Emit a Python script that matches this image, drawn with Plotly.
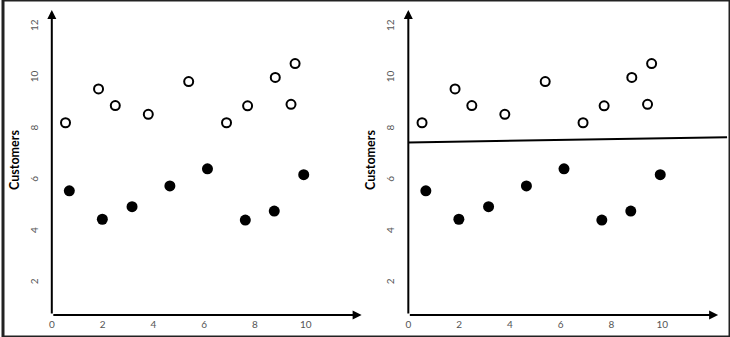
import plotly.graph_objects as go

# Survey data: two customer groups
open_x = [0.54, 1.84, 2.50, 3.80, 5.39, 6.88, 7.71, 8.80, 9.42, 9.58]
open_y = [8.25, 9.57, 8.92, 8.58, 9.86, 8.25, 8.91, 10.02, 8.97, 10.56]
filled_x = [0.69, 1.99, 3.16, 4.65, 6.13, 7.62, 8.76, 9.92]
filled_y = [5.59, 4.48, 4.97, 5.78, 6.45, 4.45, 4.80, 6.22]

# Separating line shown on the right-hand panel
line_x = [0.0, 12.55]
line_y = [7.48, 7.68]

x_ticks = [0, 2, 4, 6, 8, 10]
y_ticks = [2, 4, 6, 8, 10, 12]

W, H = 730, 337
Y_MIN, Y_MAX = 0.74, 12.85
ARROW_X, ARROW_Y = 12.2, 12.65

fig = go.Figure()

panels = [("x", "y"), ("x2", "y2")]
for i, (xa, ya) in enumerate(panels):
    fig.add_trace(go.Scatter(
        x=open_x, y=open_y, mode="markers", xaxis=xa, yaxis=ya,
        marker=dict(size=9, color="white", line=dict(color="black", width=2)),
        showlegend=False, cliponaxis=False))
    fig.add_trace(go.Scatter(
        x=filled_x, y=filled_y, mode="markers", xaxis=xa, yaxis=ya,
        marker=dict(size=11, color="black"),
        showlegend=False, cliponaxis=False))

fig.add_trace(go.Scatter(
    x=line_x, y=line_y, mode="lines", xaxis="x2", yaxis="y2",
    line=dict(color="black", width=2), showlegend=False))

tick_font = dict(family="Lato, Liberation Sans, sans-serif", size=10, color="#555555")
title_font = dict(family="Lato, Liberation Sans, sans-serif", size=12.5, color="#000000")

def xaxis_cfg(dom, rng):
    return dict(domain=dom, range=rng, tickvals=x_ticks, showgrid=False,
                zeroline=False, showline=False, ticks="", tickfont=tick_font,
                ticklabelstandoff=2, fixedrange=True)

def yaxis_cfg(anchor):
    return dict(domain=[(H - 315) / H, (H - 5) / H], range=[Y_MIN, Y_MAX],
                tickvals=y_ticks, tickangle=-90, showgrid=False, zeroline=False,
                showline=False, ticks="", tickfont=tick_font, anchor=anchor,
                ticklabelstandoff=11,
                title=dict(text="<b>Customers</b>", font=title_font, standoff=5),
                fixedrange=True)

fig.update_layout(
    width=W, height=H,
    margin=dict(l=0, r=0, t=0, b=0),
    paper_bgcolor="white", plot_bgcolor="white",
    xaxis=xaxis_cfg([49 / W, 365 / W], [0, (365 - 49) / 25.5]),
    yaxis=yaxis_cfg("x"),
    xaxis2=xaxis_cfg([407 / W, 1.0], [0, (730 - 407) / 25.5]),
    yaxis2=yaxis_cfg("x2"),
)
fig.layout.xaxis.anchor = "y"
fig.layout.xaxis2.anchor = "y2"

# Arrow-tipped axes
annotations = []
for xa, ya in panels:
    annotations.append(dict(x=ARROW_X, y=Y_MIN, ax=0, ay=Y_MIN, xref=xa, yref=ya,
                            axref=xa, ayref=ya, text="", showarrow=True,
                            arrowhead=2, arrowsize=0.9, arrowwidth=2, arrowcolor="black"))
    annotations.append(dict(x=0, y=ARROW_Y, ax=0, ay=Y_MIN, xref=xa, yref=ya,
                            axref=xa, ayref=ya, text="", showarrow=True,
                            arrowhead=2, arrowsize=0.9, arrowwidth=2, arrowcolor="black"))
fig.update_layout(annotations=annotations)

# Outer frame
fig.add_shape(type="rect", xref="paper", yref="paper", x0=0, y0=0, x1=1, y1=1,
              line=dict(color="#222222", width=3))

fig.write_html("out.html")
